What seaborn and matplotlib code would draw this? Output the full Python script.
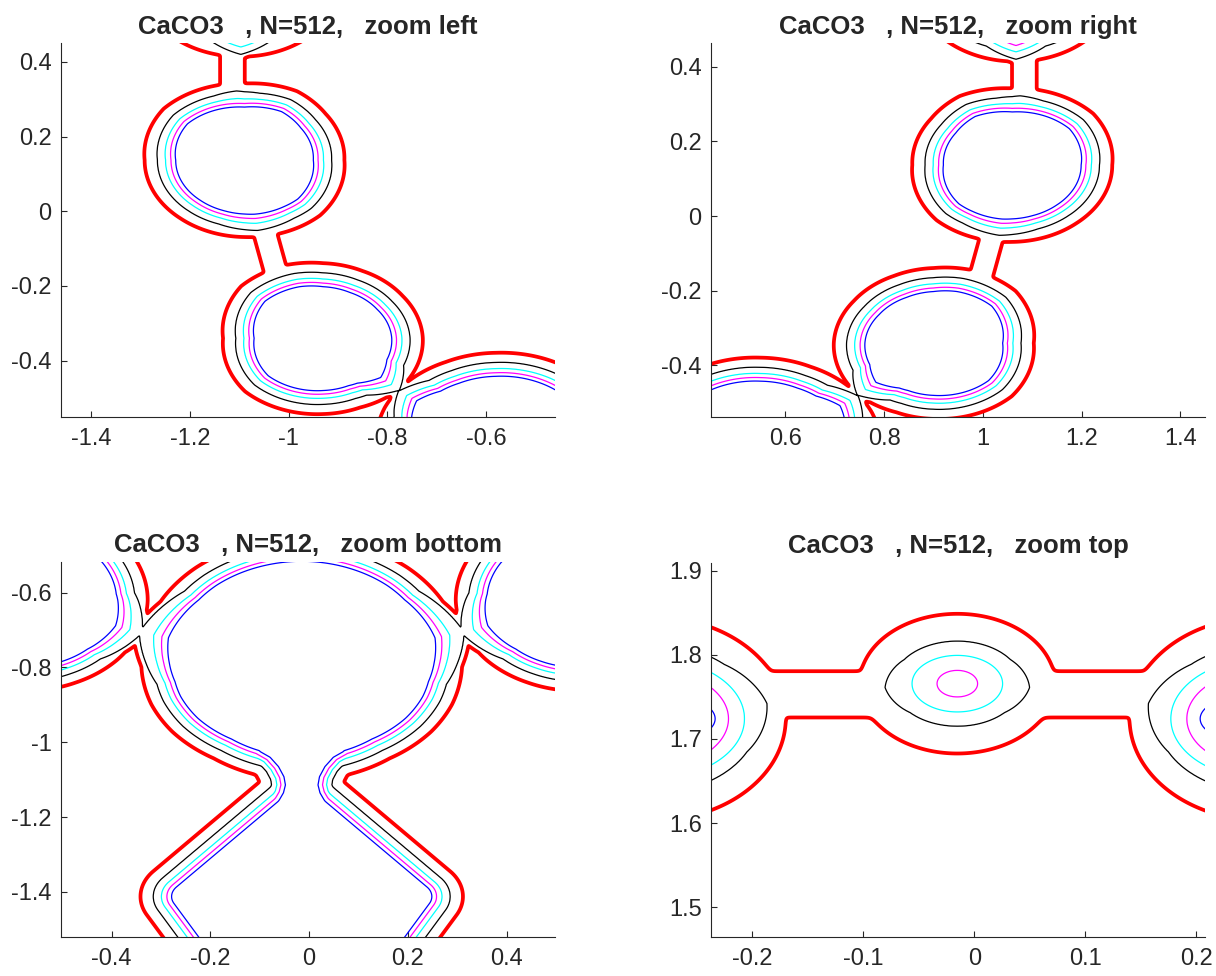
import numpy as np
import matplotlib
matplotlib.use("Agg")
import matplotlib.pyplot as plt
import seaborn as sns

# the density slice is mirror symmetric about this x value
X_MIRROR = -0.015

# contour levels, lowest (red) to highest (blue)
LEVELS = [1, 2, 3, 4, 5]
LEVEL_COLORS = ["#ff0000", "#000000", "#00ffff", "#ff00ff", "#0000ff"]
LEVEL_WIDTHS = [2.7, 0.9, 0.9, 0.9, 0.9]

# distance of the blue, magenta, cyan, black and red contour outside a ring edge
OFF_RING = [0.0, 0.0095, 0.0205, 0.037, 0.063]
# smallest gap kept between neighbouring contours of one ring (last one: black to red)
MIN_GAP = [0.006, 0.006, 0.008, 0.012]

# rings on the left half (mirrored to the right): centre, blue edge radius per angle,
# and spikes (angle, extra radius per level, half width in degrees) towards saddles
ring_a = dict(c=(-1.0895, 0.137),
              ang=[0, 37, 60, 90, 140, 180, 230, 270, 316],
              rad=[0.1395, 0.143, 0.15, 0.142, 0.151, 0.1395, 0.14, 0.143, 0.15],
              off=OFF_RING,
              spikes=[(278, [0.002, 0.004, 0.006, 0.009, 0], 25),
                      (95, [0, 0, 0.002, 0.006, 0], 15)])
ring_b = dict(c=(-0.93, -0.34),
              ang=[0, 35, 66, 90, 109, 140, 180, 222, 270, 292, 318, 340],
              rad=[0.139, 0.134, 0.134, 0.138, 0.146, 0.154, 0.14, 0.15, 0.14, 0.137, 0.143, 0.141],
              off=OFF_RING,
              spikes=[(318, [0.014, 0.018, 0.022, 0.028, 0], 18)])
ring_c = dict(c=(-0.58, -0.62),
              ang=[0, 32, 50, 90, 115, 130, 145, 157, 210, 250, 296, 320],
              rad=[0.19, 0.19, 0.186, 0.178, 0.176, 0.178, 0.18, 0.181, 0.178, 0.178, 0.182, 0.186],
              off=OFF_RING,
              spikes=[(145, [0.016, 0.018, 0.02, 0.024, 0], 16),
                      (340, [0.012, 0.016, 0.022, 0.032, 0], 25)])
ring_p = dict(c=(-1.097, 0.62), ang=[0, 180], rad=[0.13, 0.13],
              off=[0.0, 0.011, 0.028, 0.045, 0.076],
              spikes=[(270, [0.022, 0.022, 0.022, 0.025, 0], 20)])

# big peak on the symmetry axis
ring_d = dict(c=(-0.015, -0.788),
              ang=[0, 50, 90, 130, 180, 200, 215, 235, 255, 270, 285, 305, 325, 340],
              rad=[0.262, 0.27, 0.272, 0.27, 0.262, 0.261, 0.257, 0.248, 0.25, 0.25, 0.25,
                   0.248, 0.257, 0.261],
              off=OFF_RING,
              spikes=[(166, [0.014, 0.018, 0.024, 0.038, 0], 25),
                      (14, [0.014, 0.018, 0.024, 0.038, 0], 25)])

# small peaks of the top zoom: semi axes (x, y) of the blue..red contour, black tips
oval_q0 = dict(c=(-0.0153, 1.7657),
               axes=[None, (0.0183, 0.0158), (0.0408, 0.0336), (0.058, 0.0505), (0.088, 0.083)],
               tips=[(3, 184, 0.0653, 35), (3, 356, 0.0653, 35)])
oval_q = dict(c=(0.26, 1.724),
              axes=[(0.0564, 0.031), (0.0684, 0.058), (0.0828, 0.0713), (0.095, 0.088), (0.12, 0.121)],
              tips=[(3, 170, 0.1047, 35)])

# lower peak (kite shaped blue edge) and the waist joining it to the big peak
kite_e = dict(v=[(-0.015, -1.105), (-0.287, -1.407), (-0.015, -1.894), (0.257, -1.407)],
              rho=0.038, off=OFF_RING)
waist_left = [(-0.12, -0.99), (-0.099, -1.025), (-0.079, -1.04), (-0.062, -1.065),
              (-0.051, -1.092), (-0.048, -1.114), (-0.052, -1.135), (-0.063, -1.16),
              (-0.078, -1.185)]
waist_off = [0.0, 0.009, 0.017, 0.0275, 0.051]

# ridges joining peaks: end points and contour distances (left ones are mirrored)
neck_ap = dict(p=(-1.114, 0.28), q=(-1.114, 0.48), off=[-0.2, -0.15, -0.1, -0.03, 0.025])
neck_ab = dict(p=(-1.06, 0.0), q=(-1.018, -0.2), off=[-0.2, -0.15, -0.1, -0.028, 0.024])
saddle_bc = dict(p=(-0.818, -0.452), q=(-0.744, -0.509), off=[-0.1, -0.07, -0.04, -0.0015, 0.018])
saddle_cd = dict(p=(-0.393, -0.682), q=(-0.281, -0.727), off=[-0.1, -0.07, -0.04, -0.0015, 0.018])
ridge_q = dict(p=(-0.29, 1.753), q=(0.26, 1.753), off=[-0.2, -0.15, -0.1, -0.03, 0.0275])

MIRRORED_RINGS = [ring_a, ring_b, ring_c, ring_p]
MIRRORED_OVALS = [oval_q]
MIRRORED_RIDGES = [neck_ap, neck_ab, saddle_bc, saddle_cd]

PANEL_NAMES = ["zoom left", "zoom right", "zoom bottom", "zoom top"]
PANEL_XLIM = [(-1.461, -0.46), (0.45, 1.45), (-0.502, 0.498), (-0.237, 0.208)]
PANEL_YLIM = [(-0.55, 0.45), (-0.537, 0.463), (-1.5195, -0.518), (1.465, 1.9095)]
PANEL_XTICKS = [[-1.4, -1.2, -1, -0.8, -0.6], [0.6, 0.8, 1, 1.2, 1.4],
                [-0.4, -0.2, 0, 0.2, 0.4], [-0.2, -0.1, 0, 0.1, 0.2]]
PANEL_YTICKS = [[-0.4, -0.2, 0, 0.2, 0.4], [-0.4, -0.2, 0, 0.2, 0.4],
                [-1.4, -1.2, -1, -0.8, -0.6], [1.5, 1.6, 1.7, 1.8, 1.9]]

SOFT_K = 0.05
THETA = np.arange(0.0, 360.0, 1.0)


def level_value(r, R):
    """piecewise linear level value from a distance and the 5 contour radii"""
    L = [5.0, 4.0, 3.0, 2.0, 1.0]
    v = L[0] + (R[0] - r) / (R[1] - R[0])
    for k in range(4):
        seg = (r >= R[k]) & (r < R[k + 1])
        v = np.where(seg, L[k] - (r - R[k]) / (R[k + 1] - R[k]), v)
    v = np.where(r >= R[4], L[4] - (r - R[4]) / (R[4] - R[3]), v)
    return np.clip(v, -6, 9)


def ang_gap(a, b):
    return np.abs((a - b + 180) % 360 - 180)


def keep_order(table):
    for k in range(1, 5):
        table[k] = np.maximum(table[k], table[k - 1] + MIN_GAP[k - 1])
    return table


def ring_table(f, mirror):
    ang = np.asarray(f["ang"], float)
    if mirror:
        ang = (180 - ang) % 360
    base = np.interp(THETA, ang, f["rad"], period=360)
    table = []
    for k in range(5):
        rk = base + f["off"][k]
        for a, extra, w in f.get("spikes", []):
            a = (180 - a) % 360 if mirror else a
            rk = rk + extra[k] * np.clip(1 - ang_gap(THETA, a) / w, 0, None)
        table.append(rk)
    return keep_order(table)


def oval_table(f, mirror):
    t = np.radians(THETA)
    table = []
    for k in range(5):
        if f["axes"][k] is None:
            table.append(np.full(THETA.shape, -0.01))
            continue
        ax_, ay_ = f["axes"][k]
        table.append(ax_ * ay_ / np.sqrt((ay_ * np.cos(t)) ** 2 + (ax_ * np.sin(t)) ** 2))
    for k, a, rt, w in f.get("tips", []):
        a = (180 - a) % 360 if mirror else a
        i = int(round(a)) % 360
        table[k] = table[k] + (rt - table[k][i]) * np.clip(1 - ang_gap(THETA, a) / w, 0, None)
    return keep_order(table)


def radial_part(X, Y, centre, table, mirror):
    cx, cy = centre
    if mirror:
        cx = 2 * X_MIRROR - cx
    dx, dy = X - cx, Y - cy
    th = np.degrees(np.arctan2(dy, dx)) % 360
    R = [np.interp(th, THETA, tk, period=360) for tk in table]
    return level_value(np.hypot(dx, dy), R)


def seg_dist(X, Y, p, q):
    ex, ey = q[0] - p[0], q[1] - p[1]
    t = np.clip(((X - p[0]) * ex + (Y - p[1]) * ey) / (ex * ex + ey * ey), 0, 1)
    return np.hypot(X - p[0] - t * ex, Y - p[1] - t * ey)


def inset(verts, rho):
    v = np.asarray(verts, float)
    out = []
    for i in range(len(v)):
        p0, p1, p2 = v[i - 1], v[i], v[(i + 1) % len(v)]
        e1, e2 = p1 - p0, p2 - p1
        n1 = np.array([e1[1], -e1[0]]) / np.hypot(*e1)
        n2 = np.array([e2[1], -e2[0]]) / np.hypot(*e2)
        out.append(p1 - rho * (n1 + n2) / (1 + n1 @ n2))
    return np.array(out)


def poly_sdf(X, Y, v):
    d = np.full(X.shape, np.inf)
    inside = np.zeros(X.shape, bool)
    for i in range(len(v)):
        a, b = v[i], v[(i + 1) % len(v)]
        d = np.minimum(d, seg_dist(X, Y, a, b))
        cross = ((a[1] > Y) != (b[1] > Y)) & \
                (X < (b[0] - a[0]) * (Y - a[1]) / (b[1] - a[1] + 1e-12) + a[0])
        inside ^= cross
    return np.where(inside, -d, d)


def mirror_pt(p):
    return (2 * X_MIRROR - p[0], p[1])


def density(X, Y):
    parts = []
    for f in MIRRORED_RINGS:
        for m in (False, True):
            parts.append(radial_part(X, Y, f["c"], ring_table(f, m), m))
    parts.append(radial_part(X, Y, ring_d["c"], ring_table(ring_d, False), False))
    for f in MIRRORED_OVALS:
        for m in (False, True):
            parts.append(radial_part(X, Y, f["c"], oval_table(f, m), m))
    parts.append(radial_part(X, Y, oval_q0["c"], oval_table(oval_q0, False), False))

    kite = inset(kite_e["v"], kite_e["rho"])
    parts.append(level_value(poly_sdf(X, Y, kite) - kite_e["rho"], kite_e["off"]))
    waist = list(waist_left) + [mirror_pt(p) for p in waist_left[::-1]]
    parts.append(level_value(poly_sdf(X, Y, np.asarray(waist)), waist_off))

    for f in MIRRORED_RIDGES:
        parts.append(level_value(seg_dist(X, Y, f["p"], f["q"]), f["off"]))
        parts.append(level_value(seg_dist(X, Y, mirror_pt(f["p"]), mirror_pt(f["q"])), f["off"]))
    parts.append(level_value(seg_dist(X, Y, ridge_q["p"], ridge_q["q"]), ridge_q["off"]))

    stack = np.stack(parts)
    m = stack.max(axis=0)
    return m + SOFT_K * np.log(np.exp((stack - m) / SOFT_K).sum(axis=0))


sns.set_style("ticks")
plt.rcParams["font.family"] = ["Liberation Sans", "DejaVu Sans"]
plt.rcParams["axes.unicode_minus"] = False

fig = plt.figure(figsize=(12.16, 9.76), dpi=100)
rects = [[0.0504, 0.5731, 0.406, 0.3826], [0.585, 0.5731, 0.406, 0.3826],
         [0.0504, 0.0403, 0.406, 0.3839], [0.585, 0.0403, 0.406, 0.3832]]

for k, name in enumerate(PANEL_NAMES):
    ax = fig.add_axes(rects[k])
    x0, x1 = PANEL_XLIM[k]
    y0, y1 = PANEL_YLIM[k]
    pad = 0.03 * (x1 - x0)
    X, Y = np.meshgrid(np.linspace(x0 - pad, x1 + pad, 700),
                       np.linspace(y0 - pad, y1 + pad, 700))
    F = density(X, Y)
    ax.contour(X, Y, F, levels=LEVELS, colors=LEVEL_COLORS, linewidths=LEVEL_WIDTHS)

    ax.set_xlim(x0, x1)
    ax.set_ylim(y0, y1)
    ax.set_xticks(PANEL_XTICKS[k])
    ax.set_xticklabels([f"{t:g}" for t in PANEL_XTICKS[k]])
    ax.set_yticks(PANEL_YTICKS[k])
    ax.set_yticklabels([f"{t:g}" for t in PANEL_YTICKS[k]])
    ax.tick_params(axis="both", direction="in", length=4.3, width=0.8,
                   colors="#262626", labelsize=17)
    ax.tick_params(axis="x", pad=8.5)
    ax.tick_params(axis="y", pad=7)
    for side in ("left", "bottom"):
        ax.spines[side].set_color("#262626")
        ax.spines[side].set_linewidth(0.8)
    sns.despine(ax=ax)
    ax.set_title(f"CaCO3   , N=512,   {name}", fontsize=18.5, fontweight="bold", pad=7)

fig.savefig("out.png", dpi=100)
